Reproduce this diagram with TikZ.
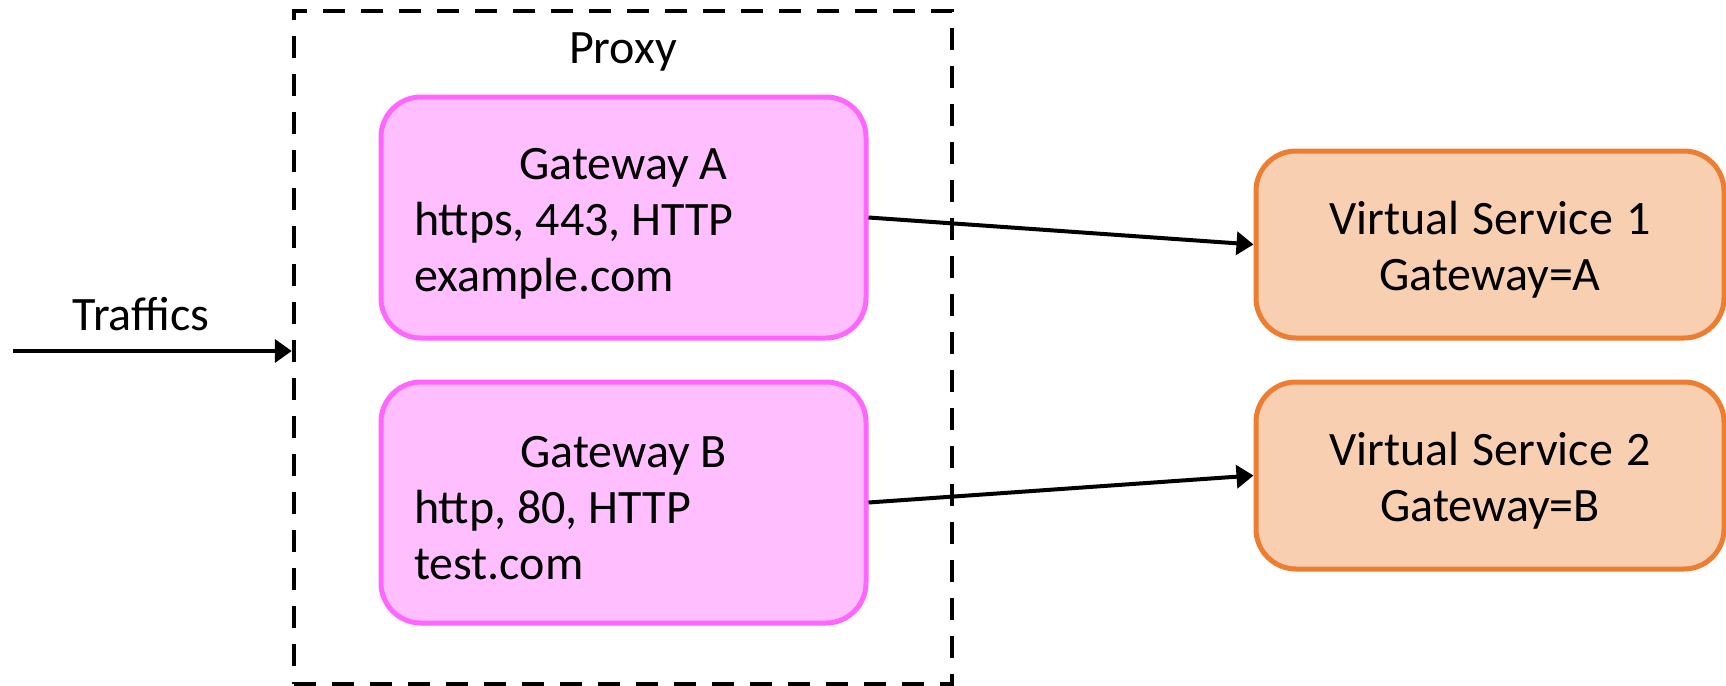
\documentclass[tikz,border=0pt]{standalone}
\usepackage{fontspec}
\setmainfont{Carlito}
\usetikzlibrary{arrows.meta}
\definecolor{gwfill}{HTML}{FFBFFF}
\definecolor{gwline}{HTML}{FF66FF}
\definecolor{vsfill}{HTML}{F8CFB0}
\definecolor{vsline}{HTML}{ED7D31}
\newcommand\topstrut{\rule{0pt}{21.5pt}}
\tikzset{
  % boxed text: normal word spaces, a taller first line
  boxtext/.style={execute at begin node={\spaceskip=0pt\xspaceskip=0pt\noindent\topstrut}},
  gw/.style={boxtext, draw=gwline, fill=gwfill, line width=2.5pt, rounded corners=20pt,
    minimum width=242.5pt, minimum height=120.5pt, text width=209.5pt,
    align=left, inner xsep=0pt},
  vs/.style={boxtext, draw=vsline, fill=vsfill, line width=2.5pt, rounded corners=20pt,
    minimum width=234pt, minimum height=93.5pt, text width=200pt, align=center,
    inner xsep=0pt},
  link/.style={line width=2pt, -{Triangle[length=8.5pt,width=11.5pt]}}
}
\begin{document}
\begin{tikzpicture}[x=0.5pt, y=-0.5pt, every node/.style={font=\fontsize{24}{28}\selectfont}]
\useasboundingbox (0,0) rectangle (1726,686);
% proxy with its two gateways
\node[draw, line width=2.25pt, dash pattern=on 11pt off 8pt,
  minimum width=329pt, minimum height=336.5pt] (proxy) at (623,347.5) {};
\node (proxylbl) at (623,52) {Proxy};
\node[gw] (gwA) at (623.5,217.5) {\hfill Gateway A\hfill\null\\ https, 443, HTTP\\ example.com};
\node[gw] (gwB) at (623.5,502.5) {\hfill Gateway B\hfill\null\\ http, 80, HTTP\\ test.com};
% virtual services
\node[vs] (vs1) at (1490,244.5) {Virtual Service 1\\ Gateway=A};
\node[vs] (vs2) at (1490,475.5) {Virtual Service 2\\ Gateway=B};
% incoming traffic
\coordinate (src) at (13,351);
\node (traffic) at (141,314) {Traffics};
\draw[link] (src) -- (src -| proxy.west);
\draw[link] (gwA.east) -- (vs1.west);
\draw[link] (gwB.east) -- (vs2.west);
\end{tikzpicture}
\end{document}
